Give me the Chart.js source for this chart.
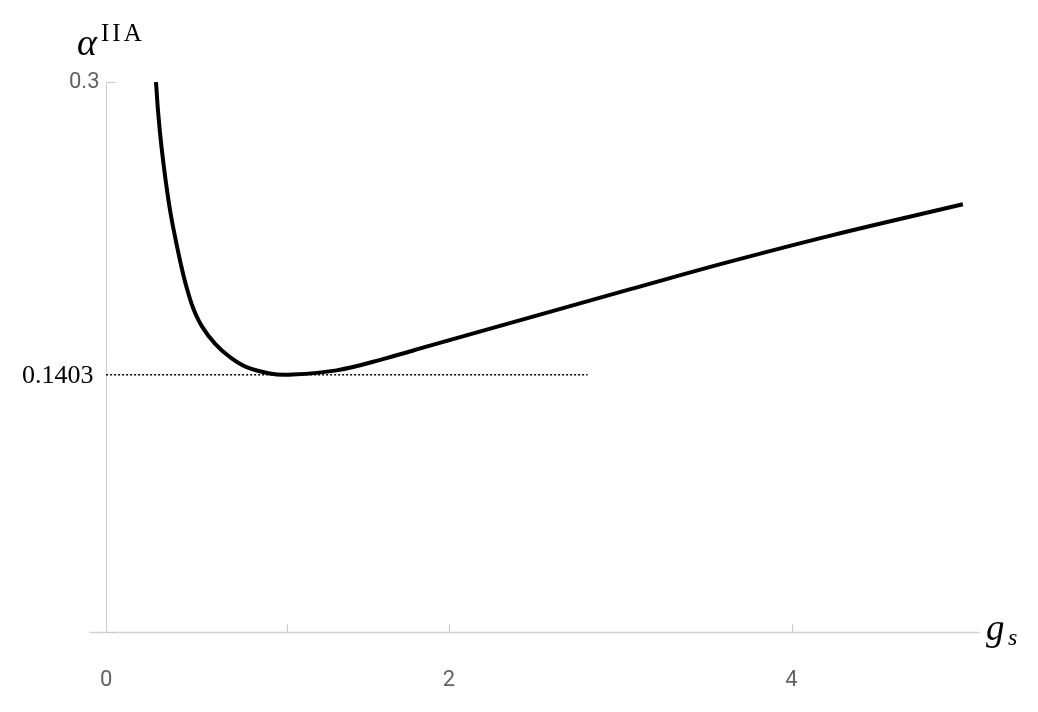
<!DOCTYPE html>
<html>
<head>
<meta charset="utf-8">
<script src="https://cdn.jsdelivr.net/npm/chart.js@4.4.1/dist/chart.umd.min.js"></script>
<style>
  body { margin: 0; background: #fff; }
  #wrap { width: 1038px; height: 712px; }
</style>
</head>
<body>
<div id="wrap"><canvas id="alphaChart" width="1038" height="712"></canvas></div>
<script>
  // curve
  const gsValues = [0.291, 0.304, 0.323, 0.347, 0.376, 0.414, 0.450, 0.479, 0.512, 0.560, 0.635, 0.722, 0.820, 0.956, 1.053, 1.345, 1.637, 1.890, 2.470, 3.060, 3.640, 4.240, 5.000];
  const alphaValues = [0.300, 0.2829, 0.2647, 0.2466, 0.2284, 0.2102, 0.1950, 0.1849, 0.1757, 0.1666, 0.1573, 0.1500, 0.1445, 0.1410, 0.1403, 0.1427, 0.1494, 0.1562, 0.1715, 0.1870, 0.2020, 0.2165, 0.2333];

  const minAlpha = 0.1403;
  const minGs = 1.053;
  const dottedEnd = 2.81;

  const xTickMarks = [minGs, 2, 4];
  const xTickLabels = ["0", "2", "4"];
  const xTickLabelValues = [0, 2, 4];
  const yTickMarks = [0, 0.3];
  const yTickLabels = ["0.3"];
  const yTickLabelValues = [0.3];

  const curve = gsValues.map((g, i) => ({ x: g, y: alphaValues[i] }));
  const dotted = [{ x: 0, y: minAlpha }, { x: dottedEnd, y: minAlpha }];

  const axesPlugin = {
    id: "mathAxes",
    beforeDatasetsDraw(chart) {
      const ctx = chart.ctx;
      const xs = chart.scales.x;
      const ys = chart.scales.y;
      const area = chart.chartArea;
      const x0 = Math.round(xs.getPixelForValue(0)) + 0.5;
      const y0 = Math.round(ys.getPixelForValue(0)) + 0.5;
      const yTop = Math.round(ys.getPixelForValue(0.3)) + 0.5;

      ctx.save();
      // x axis
      ctx.strokeStyle = "#d4d4d4";
      ctx.lineWidth = 1.5;
      ctx.beginPath();
      ctx.moveTo(area.left, y0);
      ctx.lineTo(area.right, y0);
      ctx.stroke();
      // y axis
      ctx.strokeStyle = "#cccccc";
      ctx.lineWidth = 1;
      ctx.beginPath();
      ctx.moveTo(x0, yTop);
      ctx.lineTo(x0, y0);
      ctx.stroke();

      ctx.strokeStyle = "#c8c8c8";
      xTickMarks.forEach((v) => {
        const px = Math.round(xs.getPixelForValue(v)) + 0.5;
        ctx.beginPath();
        ctx.moveTo(px, y0);
        ctx.lineTo(px, y0 - 8);
        ctx.stroke();
      });
      yTickMarks.forEach((v) => {
        const py = Math.round(ys.getPixelForValue(v)) + 0.5;
        ctx.beginPath();
        ctx.moveTo(x0, py);
        ctx.lineTo(x0 + 9, py);
        ctx.stroke();
      });

      // tick labels
      ctx.fillStyle = "#636363";
      ctx.font = "22px Roboto";
      ctx.textAlign = "center";
      ctx.textBaseline = "middle";
      xTickLabelValues.forEach((v, i) => {
        ctx.fillText(xTickLabels[i], xs.getPixelForValue(v), y0 + 48);
      });
      ctx.textAlign = "right";
      yTickLabelValues.forEach((v, i) => {
        ctx.fillText(yTickLabels[i], x0 - 7, ys.getPixelForValue(v));
      });

      // labelled minimum
      ctx.fillStyle = "#000";
      ctx.font = "26px 'Liberation Serif'";
      ctx.fillText(String(minAlpha), x0 - 13, ys.getPixelForValue(minAlpha) + 1);

      // axis titles
      ctx.textAlign = "left";
      ctx.textBaseline = "alphabetic";
      ctx.font = "italic 38px 'Liberation Serif'";
      ctx.fillText("\u03b1", 77, 55);
      ctx.font = "25px 'Liberation Serif'";
      ctx.letterSpacing = "3px";
      ctx.fillText("IIA", 101, 41);
      ctx.letterSpacing = "0px";

      ctx.font = "italic 37px 'Liberation Serif'";
      ctx.fillText("g", 986, 640);
      ctx.font = "italic 24px 'Liberation Serif'";
      ctx.fillText("s", 1008, 645);
      ctx.restore();
    }
  };

  new Chart(document.getElementById("alphaChart").getContext("2d"), {
    type: "scatter",
    data: {
      datasets: [
        {
          data: curve,
          showLine: true,
          borderColor: "#000",
          borderWidth: 4,
          borderJoinStyle: "round",
          pointRadius: 0,
          tension: 0.4,
        },
        {
          data: dotted,
          showLine: true,
          borderColor: "#000",
          borderWidth: 1.5,
          borderDash: [2, 2],
          pointRadius: 0,
        },
      ],
    },
    options: {
      responsive: false,
      animation: false,
      layout: { padding: { left: 89, right: 58, top: 82, bottom: 80 } },
      plugins: { legend: { display: false }, tooltip: { enabled: false } },
      scales: {
        x: { type: "linear", min: -0.1, max: 5.1, display: false },
        y: { type: "linear", min: 0, max: 0.3, display: false },
      },
    },
    plugins: [axesPlugin],
  });
</script>
</body>
</html>
